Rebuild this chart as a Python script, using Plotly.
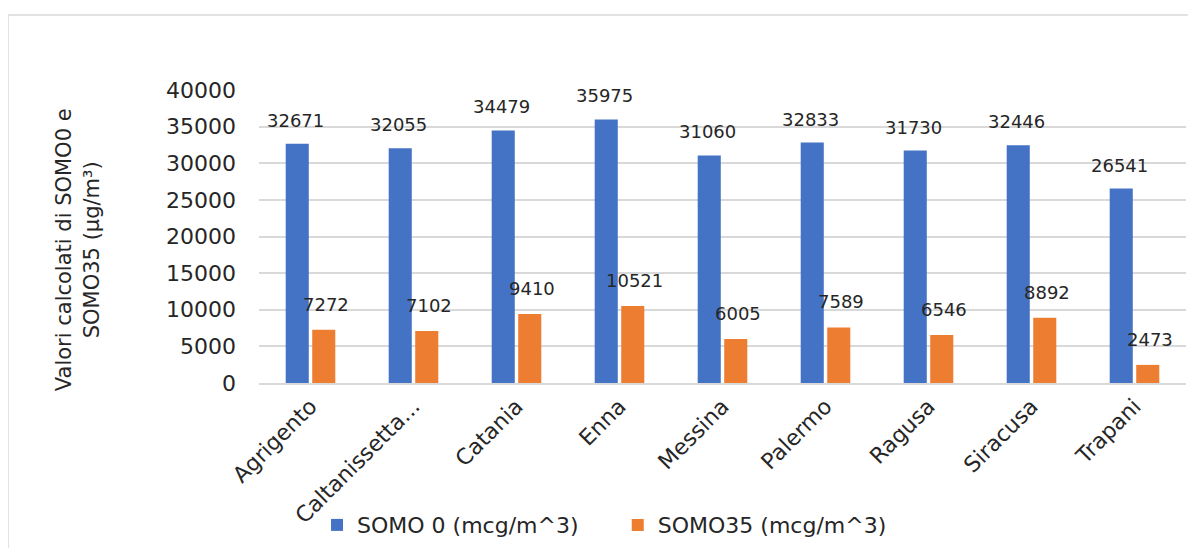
import plotly.graph_objects as go

categories = ["Agrigento", "Caltanissetta...", "Catania", "Enna", "Messina",
              "Palermo", "Ragusa", "Siracusa", "Trapani"]
somo0 = [32671, 32055, 34479, 35975, 31060, 32833, 31730, 32446, 26541]
somo35 = [7272, 7102, 9410, 10521, 6005, 7589, 6546, 8892, 2473]
y_ticks = [0, 5000, 10000, 15000, 20000, 25000, 30000, 35000, 40000]
y_ticktext = ["0", "5000", "10000", "15000", "20000", "25000", "30000", "35000", "40000"]

FONT = "DejaVu Sans"
TXT = "#262626"
BLUE = "#4472C4"
ORANGE = "#ED7D31"

fig = go.Figure()
fig.add_trace(go.Bar(x=categories, y=somo0, name="SOMO 0 (mcg/m^3)", showlegend=True,
                     marker=dict(color=BLUE, line=dict(width=0)), legend="legend"))
fig.add_trace(go.Bar(x=categories, y=somo35, name="SOMO35 (mcg/m^3)", showlegend=True,
                     marker=dict(color=ORANGE, line=dict(width=0)), legend="legend2"))

annotations = []
for c, v in zip(categories, somo0):
    annotations.append(dict(x=c, y=v, text=str(v), showarrow=False, xref="x", yref="y",
                            xanchor="center", yanchor="bottom", xshift=-15, yshift=11,
                            font=dict(family=FONT, size=18, color=TXT)))
for c, v in zip(categories, somo35):
    annotations.append(dict(x=c, y=v, text=str(v), showarrow=False, xref="x", yref="y",
                            xanchor="center", yanchor="bottom", xshift=15, yshift=13,
                            font=dict(family=FONT, size=18, color=TXT)))
annotations.append(dict(x=-0.195, y=0.454, xref="paper", yref="paper", showarrow=False,
                        text="Valori calcolati di SOMO0 e<br>SOMO35 (µg/m³)", textangle=-90,
                        xanchor="center", yanchor="middle",
                        font=dict(family=FONT, size=21, color=TXT)))

legend_common = dict(orientation="h", y=-0.485, xanchor="left", yanchor="middle",
                     font=dict(family=FONT, size=22, color=TXT), itemwidth=30,
                     bgcolor="rgba(0,0,0,0)", visible=True)

fig.update_layout(
    width=1180, height=540,
    margin=dict(l=251, r=2, t=82, b=165, autoexpand=False),
    paper_bgcolor="white", plot_bgcolor="white",
    showlegend=True,
    barmode="group", bargap=0.485, bargroupgap=0.13,
    font=dict(family=FONT, size=20, color=TXT),
    legend=dict(x=0.0626, **legend_common),
    legend2=dict(x=0.387, **legend_common),
    annotations=annotations,
    shapes=[dict(type="rect", xref="paper", yref="paper", x0=-0.2708, x1=1.2,
                 y0=-1.0, y1=1.256, line=dict(color="#d9d9d9", width=1.5), layer="below")],
)
fig.update_xaxes(tickangle=-45, showgrid=False, showline=True, linecolor="#d9d9d9",
                 linewidth=1.5, ticks="", tickfont=dict(family=FONT, size=22, color=TXT))
fig.update_yaxes(range=[0, 40000], tickvals=y_ticks, ticktext=y_ticktext, showgrid=True,
                 gridcolor="#d9d9d9", gridwidth=1.5, zeroline=False, showline=False, ticks="",
                 ticklabelstandoff=22, tickfont=dict(family=FONT, size=22, color=TXT))

fig.write_html("out.html")
